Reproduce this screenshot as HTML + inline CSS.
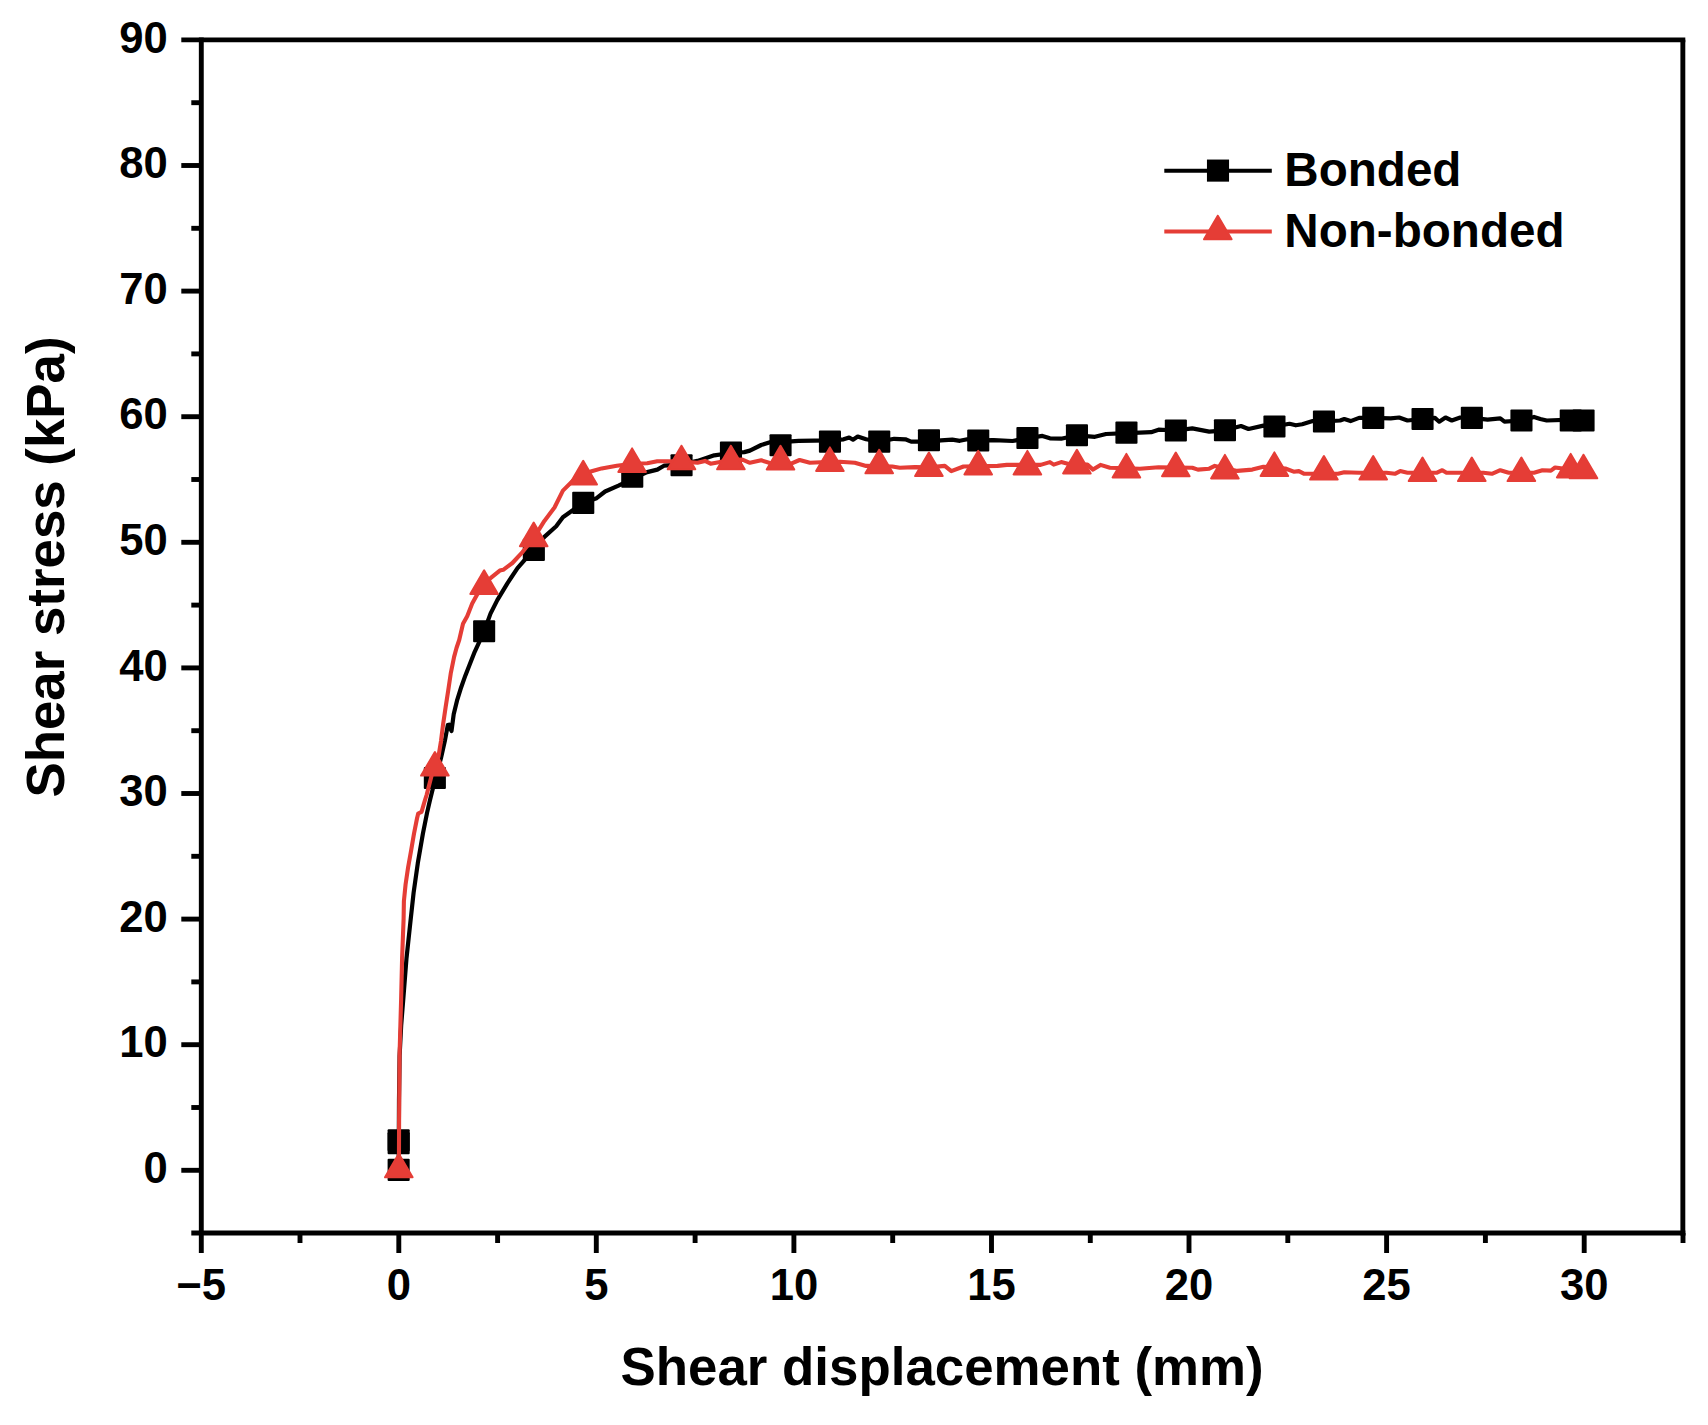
<!DOCTYPE html>
<html lang="en"><head><meta charset="utf-8"><title>Shear stress vs shear displacement</title>
<style>
html,body{margin:0;padding:0;background:#fff;}
body{width:1708px;height:1425px;overflow:hidden;}
svg{display:block;}
text{font-family:"Liberation Sans",Arial,Helvetica,sans-serif;font-weight:bold;fill:#000;}
.tk{font-size:43.6px;}
.ti{font-size:52.85px;}
.lg{font-size:47.6px;}
</style></head><body>
<svg width="1708" height="1425" viewBox="0 0 1708 1425">
<rect width="1708" height="1425" fill="#fff"/>

<polyline points="398.7,1170.0 398.8,1141.0 399.0,1100.0 399.6,1056.0 401.2,1025.0 403.2,1000.0 406.5,958.2 410.6,920.1 413.6,892.7 417.8,863.2 422.9,833.7 427.1,812.6 430.0,800.0 434.1,783.5 441.0,758.0 444.8,741.1 447.8,725.1 449.0,724.7 451.5,731.0 453.7,714.2 457.0,700.7 461.2,687.2 465.4,675.4 469.7,664.4 474.7,651.8 479.4,641.7 484.1,631.3 490.5,613.6 497.3,600.1 507.4,583.3 517.5,568.1 533.8,549.6 544.4,536.9 556.2,526.3 562.9,517.2 573.1,510.0 583.2,502.8 596.6,498.2 605.1,491.5 618.5,485.6 632.3,478.8 647.2,472.1 657.3,469.6 664.0,465.7 681.5,464.4 697.5,460.9 714.3,455.3 730.8,453.0 744.3,452.1 749.9,450.6 761.2,445.0 772.4,441.6 780.5,442.2 798.6,440.8 829.9,440.3 843.6,439.3 849.2,437.5 853.0,439.7 857.7,436.5 866.1,439.3 879.2,441.6 894.2,438.8 905.4,439.3 911.1,441.6 928.9,441.6 941.0,440.3 952.3,439.7 959.8,440.8 967.3,439.3 978.2,440.4 993.7,440.2 1012.5,441.0 1027.4,438.3 1042.4,435.9 1049.9,438.3 1061.2,438.7 1076.9,435.3 1094.9,436.8 1106.1,434.0 1126.4,433.1 1139.9,432.7 1151.1,432.2 1158.6,429.7 1175.8,430.5 1192.3,428.4 1209.2,431.6 1224.9,430.3 1241.0,426.0 1248.5,429.0 1263.5,425.6 1274.4,426.4 1289.5,423.8 1295.8,425.3 1302.2,424.3 1312.7,421.1 1323.9,421.5 1340.1,420.5 1344.3,419.0 1350.6,421.1 1359.1,417.9 1373.2,417.9 1390.7,418.4 1399.1,417.5 1407.5,420.5 1422.5,419.0 1434.9,417.9 1439.2,421.7 1445.5,417.5 1451.8,420.5 1460.2,417.5 1471.8,417.9 1487.6,419.6 1500.3,418.4 1504.5,421.7 1521.4,420.5 1534.0,416.9 1540.3,419.0 1546.7,420.5 1570.7,419.7 1583.5,420.5" fill="none" stroke="#000" stroke-width="4.2" stroke-linejoin="round" stroke-linecap="round"/>
<g fill="#000">
<rect x="387.6" y="1158.8" width="22.1" height="22.1" rx="1"/>
<rect x="387.6" y="1129.2" width="22.1" height="22.1" rx="1"/>
<rect x="387.6" y="1132.2" width="22.1" height="22.1" rx="1"/>
<rect x="423.8" y="766.9" width="22.1" height="22.1" rx="1"/>
<rect x="473.1" y="620.2" width="22.1" height="22.1" rx="1"/>
<rect x="522.8" y="538.8" width="22.1" height="22.1" rx="1"/>
<rect x="572.2" y="491.8" width="22.1" height="22.1" rx="1"/>
<rect x="621.2" y="465.6" width="22.1" height="22.1" rx="1"/>
<rect x="670.5" y="454.2" width="22.1" height="22.1" rx="1"/>
<rect x="719.9" y="441.6" width="22.1" height="22.1" rx="1"/>
<rect x="769.5" y="434.2" width="22.1" height="22.1" rx="1"/>
<rect x="818.9" y="430.6" width="22.1" height="22.1" rx="1"/>
<rect x="868.2" y="430.6" width="22.1" height="22.1" rx="1"/>
<rect x="917.9" y="429.2" width="22.1" height="22.1" rx="1"/>
<rect x="967.2" y="429.4" width="22.1" height="22.1" rx="1"/>
<rect x="1016.4" y="426.9" width="22.1" height="22.1" rx="1"/>
<rect x="1065.9" y="424.2" width="22.1" height="22.1" rx="1"/>
<rect x="1115.4" y="421.6" width="22.1" height="22.1" rx="1"/>
<rect x="1164.8" y="419.4" width="22.1" height="22.1" rx="1"/>
<rect x="1213.9" y="419.2" width="22.1" height="22.1" rx="1"/>
<rect x="1263.4" y="415.4" width="22.1" height="22.1" rx="1"/>
<rect x="1312.9" y="410.4" width="22.1" height="22.1" rx="1"/>
<rect x="1362.2" y="406.8" width="22.1" height="22.1" rx="1"/>
<rect x="1411.5" y="407.9" width="22.1" height="22.1" rx="1"/>
<rect x="1460.8" y="406.8" width="22.1" height="22.1" rx="1"/>
<rect x="1510.4" y="409.4" width="22.1" height="22.1" rx="1"/>
<rect x="1559.7" y="409.4" width="22.1" height="22.1" rx="1"/>
<rect x="1572.5" y="409.4" width="22.1" height="22.1" rx="1"/>
</g>
<polyline points="398.9,1170.0 399.1,1120.0 399.6,1053.0 401.1,1000.0 402.1,958.2 403.6,918.9 403.9,901.1 405.6,884.3 408.1,867.4 411.1,850.6 414.0,833.7 417.0,818.5 418.2,813.5 421.6,811.8 423.3,805.9 425.0,800.0 426.6,795.0 433.1,769.7 435.8,764.0 438.5,756.3 441.0,741.1 443.1,724.3 445.6,707.4 448.2,690.6 450.7,673.7 454.1,656.9 456.5,648.0 459.2,640.0 463.0,623.8 467.2,616.2 472.2,603.6 477.3,594.3 481.0,588.5 484.1,582.5 490.5,578.2 499.8,570.6 503.2,569.8 512.4,563.0 522.5,552.1 533.8,537.8 544.4,520.9 554.5,507.5 562.9,490.6 573.1,480.5 583.2,474.1 591.6,471.3 601.7,468.4 616.8,465.7 632.3,463.7 647.2,463.3 657.3,461.2 667.4,461.2 681.5,461.5 697.5,462.8 705.0,460.9 710.6,463.7 730.8,460.0 742.4,459.6 749.9,462.8 761.2,460.3 772.4,463.7 791.1,463.7 799.6,460.0 809.9,462.8 821.1,462.2 839.9,461.8 854.8,462.8 866.1,465.9 892.3,466.5 899.8,467.8 914.8,467.1 928.9,467.4 944.8,465.9 951.3,471.2 963.5,466.5 980.0,466.2 997.5,465.9 1006.8,464.9 1040.6,464.9 1049.9,462.1 1053.7,464.6 1061.2,462.1 1068.7,464.0 1087.4,464.6 1093.0,469.6 1100.5,464.9 1109.9,467.8 1139.9,468.7 1158.6,467.2 1192.3,467.8 1197.9,469.6 1209.2,468.7 1214.8,465.9 1237.3,470.9 1252.3,469.6 1263.5,466.8 1274.4,467.6 1285.3,468.5 1293.7,471.7 1298.9,471.1 1304.3,473.8 1338.0,473.8 1344.3,472.3 1359.1,472.7 1386.5,472.7 1394.9,473.8 1400.2,471.1 1407.5,472.7 1437.0,472.7 1442.3,470.2 1446.5,472.7 1483.4,472.7 1491.9,473.8 1500.3,470.2 1508.7,472.7 1534.0,472.7 1542.4,470.2 1550.9,470.6 1555.1,467.5 1570.7,469.6 1583.5,470.6" fill="none" stroke="#E53D36" stroke-width="4.1" stroke-linejoin="round" stroke-linecap="round"/>
<g fill="#E53D36" stroke="#E53D36" stroke-width="2" stroke-linejoin="round">
<polygon points="398.8,1153.7 385.0,1177.3 412.6,1177.3"/>
<polygon points="434.9,752.0 421.1,775.6 448.7,775.6"/>
<polygon points="484.1,570.3 470.3,593.9 497.9,593.9"/>
<polygon points="533.7,522.6 519.9,546.2 547.5,546.2"/>
<polygon points="583.2,460.8 569.4,484.4 597.0,484.4"/>
<polygon points="632.1,448.4 618.3,472.0 645.9,472.0"/>
<polygon points="681.5,445.7 667.7,469.3 695.3,469.3"/>
<polygon points="730.9,445.7 717.1,469.3 744.7,469.3"/>
<polygon points="780.5,445.8 766.7,469.4 794.3,469.4"/>
<polygon points="829.9,447.4 816.1,471.0 843.7,471.0"/>
<polygon points="879.2,449.7 865.4,473.3 893.0,473.3"/>
<polygon points="928.9,452.5 915.1,476.1 942.7,476.1"/>
<polygon points="978.2,450.8 964.4,474.4 992.0,474.4"/>
<polygon points="1027.4,450.9 1013.6,474.5 1041.2,474.5"/>
<polygon points="1076.9,449.8 1063.1,473.4 1090.7,473.4"/>
<polygon points="1126.4,453.9 1112.6,477.5 1140.2,477.5"/>
<polygon points="1175.8,452.6 1162.0,476.2 1189.6,476.2"/>
<polygon points="1224.9,454.9 1211.1,478.5 1238.7,478.5"/>
<polygon points="1274.4,452.4 1260.6,476.0 1288.2,476.0"/>
<polygon points="1323.9,456.0 1310.1,479.6 1337.7,479.6"/>
<polygon points="1373.2,456.0 1359.4,479.6 1387.0,479.6"/>
<polygon points="1422.5,457.5 1408.7,481.1 1436.3,481.1"/>
<polygon points="1471.8,457.5 1458.0,481.1 1485.6,481.1"/>
<polygon points="1521.4,457.5 1507.6,481.1 1535.2,481.1"/>
<polygon points="1570.7,453.9 1556.9,477.5 1584.5,477.5"/>
<polygon points="1583.5,454.7 1569.7,478.3 1597.3,478.3"/>
</g>
<g stroke="#000" stroke-width="4.9" fill="none" stroke-linecap="butt">
<line x1="201.3" y1="37.41" x2="201.3" y2="1253.0"/>
<line x1="181.3" y1="39.86" x2="1685.3" y2="39.86"/>
<line x1="1682.85" y1="39.86" x2="1682.85" y2="1235.45"/>
<line x1="191.3" y1="1233.0" x2="1685.3" y2="1233.0"/>
<line x1="181.3" y1="1170.3" x2="201.3" y2="1170.3"/>
<line x1="191.3" y1="1107.5" x2="201.3" y2="1107.5"/>
<line x1="181.3" y1="1044.7" x2="201.3" y2="1044.7"/>
<line x1="191.3" y1="981.9" x2="201.3" y2="981.9"/>
<line x1="181.3" y1="919.1" x2="201.3" y2="919.1"/>
<line x1="191.3" y1="856.3" x2="201.3" y2="856.3"/>
<line x1="181.3" y1="793.5" x2="201.3" y2="793.5"/>
<line x1="191.3" y1="730.7" x2="201.3" y2="730.7"/>
<line x1="181.3" y1="667.9" x2="201.3" y2="667.9"/>
<line x1="191.3" y1="605.1" x2="201.3" y2="605.1"/>
<line x1="181.3" y1="542.3" x2="201.3" y2="542.3"/>
<line x1="191.3" y1="479.5" x2="201.3" y2="479.5"/>
<line x1="181.3" y1="416.7" x2="201.3" y2="416.7"/>
<line x1="191.3" y1="353.9" x2="201.3" y2="353.9"/>
<line x1="181.3" y1="291.1" x2="201.3" y2="291.1"/>
<line x1="191.3" y1="228.3" x2="201.3" y2="228.3"/>
<line x1="181.3" y1="165.5" x2="201.3" y2="165.5"/>
<line x1="191.3" y1="102.7" x2="201.3" y2="102.7"/>
<line x1="300.0" y1="1233.0" x2="300.0" y2="1243.0"/>
<line x1="398.8" y1="1233.0" x2="398.8" y2="1253.0"/>
<line x1="497.6" y1="1233.0" x2="497.6" y2="1243.0"/>
<line x1="596.3" y1="1233.0" x2="596.3" y2="1253.0"/>
<line x1="695.1" y1="1233.0" x2="695.1" y2="1243.0"/>
<line x1="793.9" y1="1233.0" x2="793.9" y2="1253.0"/>
<line x1="892.7" y1="1233.0" x2="892.7" y2="1243.0"/>
<line x1="991.5" y1="1233.0" x2="991.5" y2="1253.0"/>
<line x1="1090.3" y1="1233.0" x2="1090.3" y2="1243.0"/>
<line x1="1189.0" y1="1233.0" x2="1189.0" y2="1253.0"/>
<line x1="1287.8" y1="1233.0" x2="1287.8" y2="1243.0"/>
<line x1="1386.6" y1="1233.0" x2="1386.6" y2="1253.0"/>
<line x1="1485.4" y1="1233.0" x2="1485.4" y2="1243.0"/>
<line x1="1584.2" y1="1233.0" x2="1584.2" y2="1253.0"/>
<line x1="1683.0" y1="1233.0" x2="1683.0" y2="1243.0"/>
</g>
<text class="tk" x="167.8" y="1182.9" text-anchor="end">0</text>
<text class="tk" x="167.8" y="1057.3" text-anchor="end">10</text>
<text class="tk" x="167.8" y="931.7" text-anchor="end">20</text>
<text class="tk" x="167.8" y="806.1" text-anchor="end">30</text>
<text class="tk" x="167.8" y="680.5" text-anchor="end">40</text>
<text class="tk" x="167.8" y="554.9" text-anchor="end">50</text>
<text class="tk" x="167.8" y="429.3" text-anchor="end">60</text>
<text class="tk" x="167.8" y="303.7" text-anchor="end">70</text>
<text class="tk" x="167.8" y="178.1" text-anchor="end">80</text>
<text class="tk" x="167.8" y="52.5" text-anchor="end">90</text>
<text class="tk" x="201.2" y="1300.4" text-anchor="middle">−5</text>
<text class="tk" x="398.8" y="1300.4" text-anchor="middle">0</text>
<text class="tk" x="596.3" y="1300.4" text-anchor="middle">5</text>
<text class="tk" x="793.9" y="1300.4" text-anchor="middle">10</text>
<text class="tk" x="991.5" y="1300.4" text-anchor="middle">15</text>
<text class="tk" x="1189.0" y="1300.4" text-anchor="middle">20</text>
<text class="tk" x="1386.6" y="1300.4" text-anchor="middle">25</text>
<text class="tk" x="1584.2" y="1300.4" text-anchor="middle">30</text>
<text class="ti" x="942.1" y="1384.6" text-anchor="middle">Shear displacement (mm)</text>
<text class="ti" transform="translate(63.6,567.0) rotate(-90)" text-anchor="middle">Shear stress (kPa)</text>
<line x1="1164.3" y1="170.7" x2="1271.8" y2="170.7" stroke="#000" stroke-width="4.1"/>
<rect x="1206.95" y="159.54999999999998" width="22.1" height="22.1" fill="#000"/>
<line x1="1164.3" y1="231.5" x2="1271.8" y2="231.5" stroke="#E53D36" stroke-width="4.1"/>
<polygon points="1217.8,215.7 1204.0,239.3 1231.6,239.3" fill="#E53D36" stroke="#E53D36" stroke-width="2" stroke-linejoin="round"/>
<text class="lg" x="1284.3" y="186.2">Bonded</text>
<text class="lg" x="1284.3" y="246.5">Non-bonded</text>
</svg></body></html>
